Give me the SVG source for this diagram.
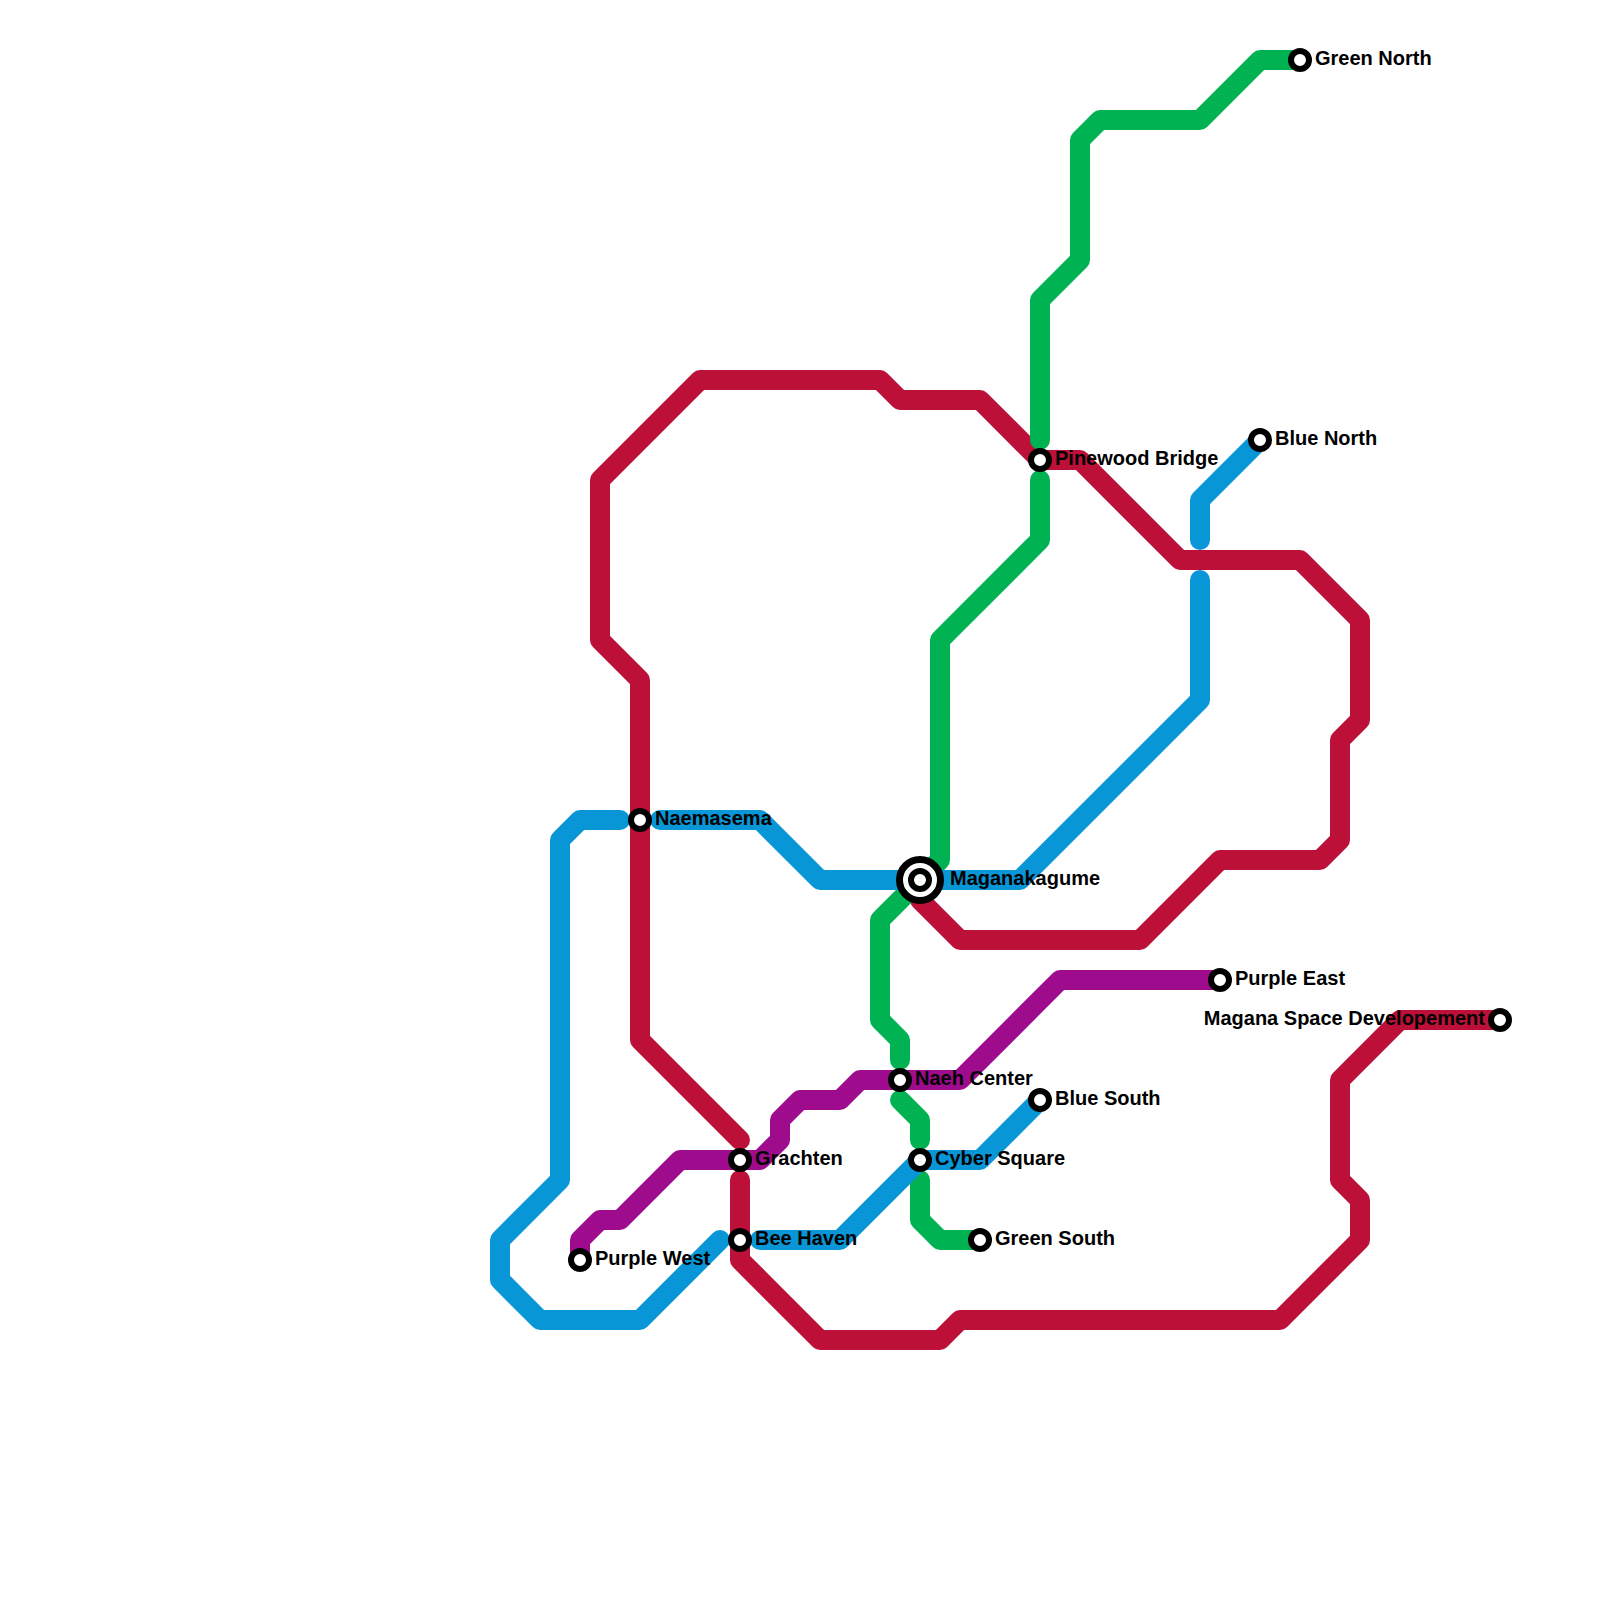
<svg xmlns="http://www.w3.org/2000/svg" width="1600" height="1600" viewBox="0 0 1600 1600">
<style>
.l{fill:none;stroke-width:20;stroke-linecap:round;stroke-linejoin:round}
.r{stroke:#bd1038}.g{stroke:#00b251}.p{stroke:#9e0b8c}.b{stroke:#0896d7}
.s{fill:#fff;stroke:#000;stroke-width:6}
.x{fill:#fff;stroke:#000;stroke-width:7}
text{font-family:"Liberation Sans",Arial,sans-serif;font-weight:700;font-size:20px;fill:#000}
</style>
<rect width="1600" height="1600" fill="#fff"/>
<g id="connectors">
<path class="l r" d="M1500 1020H1400L1340 1080V1180L1360 1200V1240L1280 1320H960L940 1340H820L740 1260V1180"/>
<path class="l r" d="M740 1140L640 1040V680L600 640V480L700 380H880L900 400H980L1040 460H1080L1180 560H1300L1360 620V720L1340 740V840L1320 860H1220L1140 940H960L920 900V880"/>
<path class="l g" d="M1300 60H1260L1200 120H1100L1080 140V260L1040 300V440"/>
<path class="l g" d="M1040 480V540L940 640V860L880 920V1020L900 1040V1060"/>
<path class="l g" d="M900 1100L920 1120V1140"/>
<path class="l g" d="M920 1180V1220L940 1240H980"/>
<path class="l p" d="M580 1260V1240L600 1220H620L680 1160H760L780 1140V1120L800 1100H840L860 1080H960L1060 980H1220"/>
<path class="l b" d="M720 1240L640 1320H540L500 1280V1240L560 1180V840L580 820H620"/>
<path class="l b" d="M660 820H760L820 880H1020L1200 700V580"/>
<path class="l b" d="M1200 540V500L1260 440"/>
<path class="l b" d="M760 1240H840L920 1160H980L1040 1100"/>
</g>
<g id="green-north"><circle class="s" cx="1300" cy="60" r="9"/><text x="1315" y="65">Green North</text></g>
<g id="blue-north"><circle class="s" cx="1260" cy="440" r="9"/><text x="1275" y="445">Blue North</text></g>
<g id="pinewood-bridge"><circle class="s" cx="1040" cy="460" r="9"/><text x="1055" y="465">Pinewood Bridge</text></g>
<g id="naemasema"><circle class="s" cx="640" cy="820" r="9"/><text x="655" y="825">Naemasema</text></g>
<g id="maganakagume"><circle class="x" cx="920" cy="880" r="20.5"/><circle class="s" cx="920" cy="880" r="9"/><text x="950" y="885">Maganakagume</text></g>
<g id="purple-east"><circle class="s" cx="1220" cy="980" r="9"/><text x="1235" y="985">Purple East</text></g>
<g id="magana-space"><circle class="s" cx="1500" cy="1020" r="9"/><text x="1485" y="1025" text-anchor="end">Magana Space Developement</text></g>
<g id="naeh-center"><circle class="s" cx="900" cy="1080" r="9"/><text x="915" y="1085">Naeh Center</text></g>
<g id="blue-south"><circle class="s" cx="1040" cy="1100" r="9"/><text x="1055" y="1105">Blue South</text></g>
<g id="grachten"><circle class="s" cx="740" cy="1160" r="9"/><text x="755" y="1165">Grachten</text></g>
<g id="cyber-square"><circle class="s" cx="920" cy="1160" r="9"/><text x="935" y="1165">Cyber Square</text></g>
<g id="bee-haven"><circle class="s" cx="740" cy="1240" r="9"/><text x="755" y="1245">Bee Haven</text></g>
<g id="green-south"><circle class="s" cx="980" cy="1240" r="9"/><text x="995" y="1245">Green South</text></g>
<g id="purple-west"><circle class="s" cx="580" cy="1260" r="9"/><text x="595" y="1265">Purple West</text></g>
</svg>
